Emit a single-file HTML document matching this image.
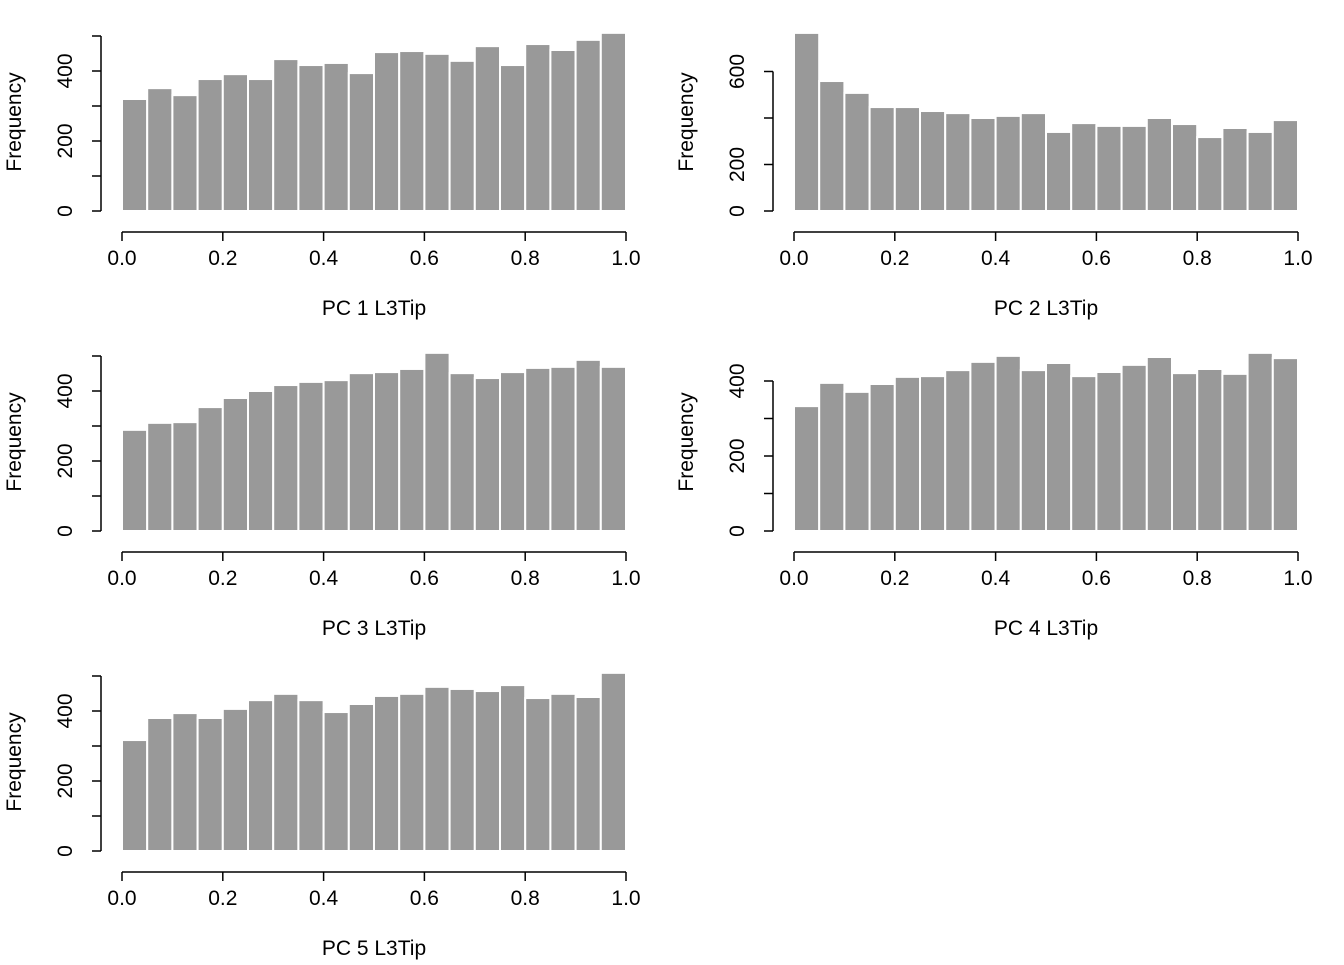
<!DOCTYPE html>
<html><head><meta charset="utf-8"><style>
body{margin:0;background:#fff}
svg text{font-family:"Liberation Sans",Arial,sans-serif;font-size:21px;fill:#000}
</style></head><body>
<svg id="chart" width="1344" height="960" xmlns="http://www.w3.org/2000/svg"></svg>
<script>
const pc1Counts=[320,351,331,377,391,377,434,417,423,394,454,457,449,429,471,417,477,460,489,509];
const pc2Counts=[766,559,508,447,447,430,421,400,409,421,340,378,366,366,400,374,318,357,340,391];
const pc3Counts=[289,309,311,354,380,400,417,426,431,451,454,463,509,451,437,454,466,469,489,469];
const pc4Counts=[333,395,371,392,411,413,429,451,467,429,448,413,424,443,464,421,432,419,475,461];
const pc5Counts=[317,380,394,380,406,431,449,431,397,420,443,449,469,463,457,474,437,449,440,509];
const xTicks=[0,0.2,0.4,0.6,0.8,1.0];
const xTickLabels=["0.0","0.2","0.4","0.6","0.8","1.0"];
const panelTitles=["PC 1 L3Tip","PC 2 L3Tip","PC 3 L3Tip","PC 4 L3Tip","PC 5 L3Tip"];
const yLabelVals1=[0,200,400];const yMinor1=[0,100,200,300,400,500];
const yLabelVals2=[0,200,600];const yMinor2=[0,200,400,600];
const yLabelVals4=[0,200,400];const yMinor4=[0,100,200,300,400];
const panels=[
 {counts:pc1Counts,px:122,base:211,scale:0.35,yl:yLabelVals1,ym:yMinor1,name:'pc1'},
 {counts:pc2Counts,px:794,base:211,scale:0.2325,yl:yLabelVals2,ym:yMinor2,name:'pc2'},
 {counts:pc3Counts,px:122,base:531,scale:0.35,yl:yLabelVals1,ym:yMinor1,name:'pc3'},
 {counts:pc4Counts,px:794,base:531,scale:0.375,yl:yLabelVals4,ym:yMinor4,name:'pc4'},
 {counts:pc5Counts,px:122,base:851,scale:0.35,yl:yLabelVals1,ym:yMinor1,name:'pc5'}
];
const svg=document.getElementById('chart');const NS='http://www.w3.org/2000/svg';
function mk(t,a,p){const e=document.createElementNS(NS,t);for(const k in a)e.setAttribute(k,a[k]);p.appendChild(e);return e;}
panels.forEach((P,pi)=>{
 const g=mk('g',{},svg);
 
 
 const W=504;const xs=v=>P.px+v*W;const ys=v=>P.base-v*P.scale;
 const bw=W/P.counts.length;
 P.counts.forEach((c,i)=>{
  const r=mk('rect',{x:xs(i/P.counts.length),y:ys(c),width:bw,height:c*P.scale,fill:'#999999',stroke:'#ffffff','stroke-width':2},g);
  
  
 });
 const ax=P.base+21;
 const xa=mk('line',{x1:xs(0),x2:xs(1),y1:ax,y2:ax,stroke:'#000','stroke-width':1.5},g);
 
 
 xTicks.forEach((t,i)=>{
  mk('line',{x1:xs(t),x2:xs(t),y1:ax,y2:ax+9,stroke:'#000','stroke-width':1.5},g);
  const tx=mk('text',{x:xs(t),y:ax+33,'text-anchor':'middle'},g);tx.textContent=xTickLabels[i];
  
  
 });
 const xt=mk('text',{x:xs(0.5),y:ax+83,'text-anchor':'middle'},g);xt.textContent=panelTitles[pi];
 
 
 const yx=P.px-21;const ym=P.ym;
 const ya=mk('line',{x1:yx,x2:yx,y1:ys(0),y2:ys(ym[ym.length-1]),stroke:'#000','stroke-width':1.5},g);
 
 
 ym.forEach(v=>mk('line',{x1:yx-9,x2:yx,y1:ys(v),y2:ys(v),stroke:'#000','stroke-width':1.5},g));
 P.yl.forEach(v=>{
  const t=mk('text',{x:0,y:0,'text-anchor':'middle',transform:`translate(${yx-29},${ys(v)}) rotate(-90)`},g);t.textContent=v;
  
  
 });
 const yt=mk('text',{x:0,y:0,'text-anchor':'middle',transform:`translate(${yx-80},${P.base-89}) rotate(-90)`},g);yt.textContent='Frequency';
 
 
});
</script>
</body></html>
